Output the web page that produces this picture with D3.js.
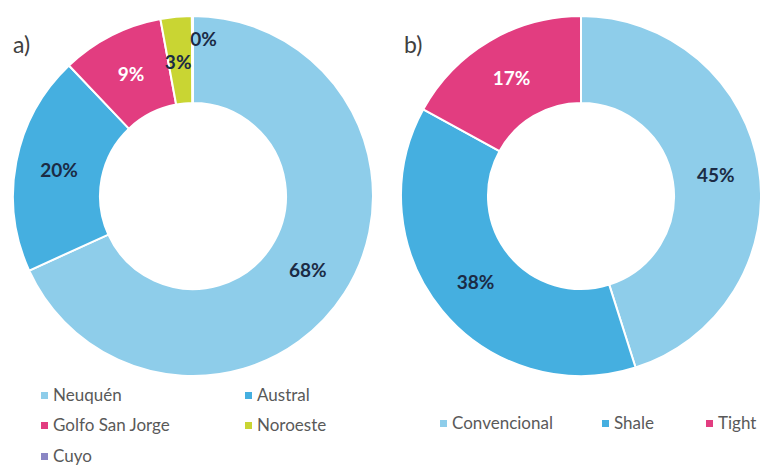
<!DOCTYPE html>
<html><head><meta charset="utf-8">
<script src="https://cdn.jsdelivr.net/npm/d3@7"></script>
<style>body{margin:0;background:#fff}svg{display:block}</style>
</head><body>
<svg id="c" width="760" height="465"></svg>
<script>
const regions = ["Neuquén", "Austral", "Golfo San Jorge", "Noroeste", "Cuyo"];
const regionValues = [68.2, 19.7, 9.2, 2.8, 0.1];
const regionColors = ["#8ecdea", "#45afe0", "#e23d80", "#c9d533", "#8a86c4"];
const types = ["Convencional", "Shale", "Tight"];
const typeValues = [45.1, 37.9, 17.0];
const typeColors = ["#8ecdea", "#45afe0", "#e23d80"];
const panelLabels = ["a)", "b)"];

const svg = d3.select("#c");
const font = "Lato, 'Open Sans', sans-serif";
const R = 180, r = 93;

function donut(cx, cy, names, values, colors, lightText, nudges) {
  const g = svg.append("g").attr("transform", `translate(${cx},${cy})`);
  const pie = d3.pie().sort(null).value(d => d)(values);
  const arc = d3.arc().innerRadius(r).outerRadius(R);
  const larc = d3.arc().innerRadius((r + R) / 2).outerRadius((r + R) / 2);
  g.selectAll("path").data(pie).join("path")
    .attr("d", arc).attr("fill", (d, i) => colors[i])
    .attr("stroke", "#fff").attr("stroke-width", 2);
  g.selectAll("text").data(pie).join("text")
    .attr("transform", (d, i) => {
      const c = larc.centroid(d);
      const n = nudges[i] || [0, 0];
      return `translate(${c[0] + n[0]},${c[1] + n[1]})`;
    })
    .attr("text-anchor", "middle").attr("dy", "0.35em")
    .attr("font-family", font).attr("font-weight", "bold").attr("font-size", 19)
    .attr("fill", (d, i) => lightText.includes(i) ? "#ffffff" : "#1b2b45")
    .text(d => Math.round(d.data) + "%");
}

donut(193, 196, regions, regionValues, regionColors, [2], {3: [-2, 2], 4: [11, -20]});
donut(581, 196, types, typeValues, typeColors, [2], {});

svg.append("text").attr("x", 13).attr("y", 53).attr("font-family", font)
  .attr("font-size", 23).attr("fill", "#404040").text(panelLabels[0]);
svg.append("text").attr("x", 404).attr("y", 53).attr("font-family", font)
  .attr("font-size", 23).attr("fill", "#404040").text(panelLabels[1]);

function legendItem(x, y, name, color) {
  svg.append("rect").attr("x", x).attr("y", y - 3).attr("width", 7).attr("height", 7).attr("fill", color);
  svg.append("text").attr("x", x + 12).attr("y", y).attr("dy", "0.38em")
    .attr("font-family", font).attr("font-size", 17).attr("fill", "#595959").text(name);
}
const leftPos = [[41, 395], [245, 395], [41, 425], [245, 425], [41, 456]];
regions.forEach((n, i) => legendItem(leftPos[i][0], leftPos[i][1], n, regionColors[i]));
const rightX = [440, 602, 706];
types.forEach((n, i) => legendItem(rightX[i], 423, n, typeColors[i]));
</script>
</body></html>
